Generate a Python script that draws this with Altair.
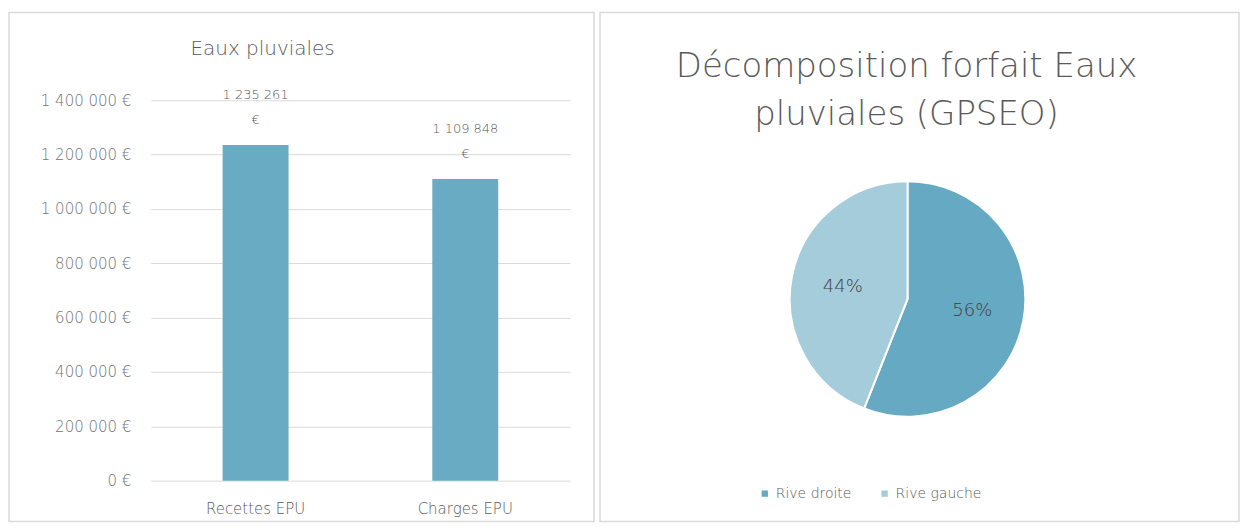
import altair as alt
import pandas as pd

categories = ["Recettes EPU", "Charges EPU"]
amounts = [1235261, 1109848]
y_ticks = [0, 200000, 400000, 600000, 800000, 1000000, 1200000, 1400000]

slices = ["Rive droite", "Rive gauche"]
shares = [56, 44]

left_title = ["Eaux pluviales"]
right_title = ["Décomposition forfait Eaux", "pluviales (GPSEO)"]

FONT = "DejaVu Sans"
W = 200
BAR = "#69abc3"
DARK = "#66a9c2"
LIGHT = "#a5ccda"
TXT = "#595959"
GRID = "#d9d9d9"
FRAME = "#d9d9d9"

bar_df = pd.DataFrame({
    "cat": categories,
    "val": amounts,
    "lab": [f"{v:,}".replace(",", " ") + "\n€" for v in amounts],
})
pie_df = pd.DataFrame({
    "part": slices,
    "pct": shares,
    "lab": [f"{s}%" for s in shares],
    "ord": list(range(len(slices))),
})
frame_df = pd.DataFrame({"f": [0]})

label_expr = "replace(replace(format(datum.value, ','), ',', ' '), ',', ' ') + ' €'"

base = alt.Chart(bar_df).encode(
    x=alt.X("cat:N", sort=categories,
            scale=alt.Scale(paddingInner=0, paddingOuter=0),
            axis=alt.Axis(title=None, labelAngle=0, labelFontSize=15, labelColor=TXT,
                          labelPadding=21, domain=False, ticks=False, labelFont=FONT,
                          labelFontWeight=W)),
    y=alt.Y("val:Q", scale=alt.Scale(domain=[0, 1400000], nice=False),
            axis=alt.Axis(title=None, values=y_ticks, labelExpr=label_expr, grid=True,
                          gridColor=GRID, domain=False, ticks=False, labelPadding=20,
                          minExtent=137, labelFontSize=15, labelColor="#737373",
                          labelFont=FONT, labelFontWeight=W)),
)
bars = base.mark_bar(color=BAR, width=66)
bar_text = base.mark_text(lineBreak="\n", baseline="bottom", dy=-43, fontSize=13,
                          color=TXT, lineHeight=25, font=FONT, fontWeight=W).encode(text="lab:N")

left_frame = alt.Chart(frame_df).mark_rect(fillOpacity=0, stroke=FRAME, strokeWidth=1.5).encode(
    x=alt.value(-142), x2=alt.value(444), y=alt.value(-88), y2=alt.value(422))
left_head = alt.Chart(pd.DataFrame({"t": left_title})).mark_text(
    fontSize=20, color=TXT, font=FONT, fontWeight=W, baseline="middle", align="center"
).encode(text="t:N", x=alt.value(112), y=alt.value(-51))

left = alt.layer(left_frame, left_head, bars, bar_text).properties(width=420, height=381)

pbase = alt.Chart(pie_df).encode(
    theta=alt.Theta("pct:Q", stack=True),
    order=alt.Order("ord:Q"),
)
arcs = pbase.mark_arc(outerRadius=118, stroke="white", strokeWidth=2).encode(
    color=alt.Color("part:N", sort=slices,
                    scale=alt.Scale(domain=slices, range=[DARK, LIGHT]),
                    legend=alt.Legend(title=None, orient="none", legendX=608, legendY=387,
                                      direction="horizontal", symbolType="square",
                                      symbolSize=40, labelFontSize=14, labelColor=TXT,
                                      labelFont=FONT, labelFontWeight=W, columnPadding=26,
                                      symbolStrokeWidth=0)),
)
pie_text = pbase.mark_text(radius=66, fontSize=18, color="#404040", font=FONT,
                           fontWeight=W).encode(text="lab:N")

right_frame = alt.Chart(frame_df).mark_rect(fillOpacity=0, stroke=FRAME, strokeWidth=1.5).encode(
    x=alt.value(-2), x2=alt.value(638), y=alt.value(-88), y2=alt.value(422))
right_head = alt.Chart(pd.DataFrame({"t": ["\n".join(right_title)]})).mark_text(
    fontSize=34, color=TXT, font=FONT, fontWeight=W, baseline="middle", align="center",
    lineBreak="\n", lineHeight=48
).encode(text="t:N", x=alt.value(305), y=alt.value(-33))

right = alt.layer(right_frame, right_head, arcs, pie_text).properties(width=612, height=398)

chart = alt.hconcat(left, right, spacing=4).properties(
    padding={"left": 0, "top": 3, "right": 0, "bottom": 0}
).configure_view(stroke=None)

chart.save("out.html", embed_options={"renderer": "svg", "actions": False})
